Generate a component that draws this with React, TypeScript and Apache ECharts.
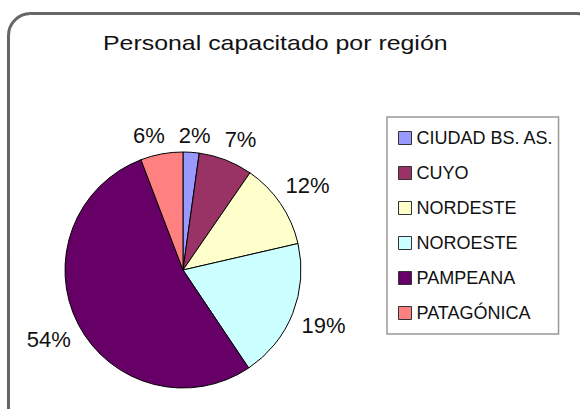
import React, { useEffect, useRef } from "react";
import * as echarts from "echarts";

const regions = ["CIUDAD BS. AS.", "CUYO", "NORDESTE", "NOROESTE", "PAMPEANA", "PATAGÓNICA"];
const shares = [2.2, 7.4, 11.8, 19.2, 53.6, 5.8];
const colors = ["#9999FF", "#993366", "#FFFFCC", "#CCFFFF", "#660066", "#FF8080"];
const titleText = "Personal capacitado por región";

const CX = 183;
const CY = 270;
const R = 118;
const LABEL_SIZE = 22;
const FONT = "'Liberation Sans', Arial, sans-serif";

function computeLabelSpots() {
  const total = shares.reduce((a, b) => a + b, 0);
  const canvas = document.createElement("canvas");
  const ctx = canvas.getContext("2d");
  if (ctx) ctx.font = `${LABEL_SIZE}px ${FONT}`;
  let acc = 0;
  const items = shares.map((v) => {
    const mid = ((acc + v / 2) / total) * Math.PI * 2;
    acc += v;
    const ux = Math.sin(mid);
    const uy = -Math.cos(mid);
    const text = Math.round((v / total) * 100) + "%";
    const w = ctx ? ctx.measureText(text).width : text.length * 12;
    const h = LABEL_SIZE;
    const k = 4 + Math.abs(ux) * (w / 2 + 5) + (Math.abs(uy) * h) / 2;
    return { x: CX + ux * (R + k), y: CY + uy * (R + k), w, top: uy < -0.9 };
  });
  const tops = items.filter((t) => t.top).sort((a, b) => a.x - b.x);
  for (let it = 0; it < 60; it++) {
    for (let j = 0; j < tops.length - 1; j++) {
      const a = tops[j];
      const b = tops[j + 1];
      const need = (a.w + b.w) / 2 + 14;
      const d = b.x - a.x;
      if (d < need) {
        const s = (need - d) / 2;
        a.x -= s;
        b.x += s;
      }
    }
  }
  return items;
}

export default function App() {
  const ref = useRef<HTMLDivElement>(null);
  useEffect(() => {
    if (!ref.current) return;
    const chart = echarts.init(ref.current, null, { renderer: "svg" });
    const spots = computeLabelSpots();
    chart.setOption({
      animation: false,
      backgroundColor: "#ffffff",
      legend: {
        orient: "vertical",
        left: 387,
        top: 117,
        padding: [12, 5, 12, 11],
        itemGap: 17,
        itemWidth: 13,
        itemHeight: 13,
        icon: "rect",
        borderColor: "#999",
        borderWidth: 1.5,
        itemStyle: { borderColor: "#333", borderWidth: 1 },
        textStyle: { fontFamily: FONT, fontSize: 18, color: "#111" },
        data: regions,
      },
      graphic: [
        {
          type: "rect",
          shape: { x: 8.5, y: 13.5, width: 590, height: 430, r: 22 },
          style: { fill: "none", stroke: "#666", lineWidth: 3 },
          silent: true,
        },
        {
          type: "text",
          x: 103,
          y: 32,
          scaleX: 1.215,
          silent: true,
          style: {
            text: titleText,
            fontFamily: FONT,
            fontSize: 20.5,
            fill: "#111",
            verticalAlign: "top",
            align: "left",
          },
        },
      ],
      series: [
        {
          type: "pie",
          center: [CX, CY],
          radius: R,
          startAngle: 90,
          clockwise: true,
          avoidLabelOverlap: false,
          itemStyle: { borderColor: "#000", borderWidth: 1 },
          label: {
            show: true,
            position: "outside",
            overflow: "none",
            fontFamily: FONT,
            fontSize: LABEL_SIZE,
            color: "#111",
            formatter: (p: any) => Math.round(p.percent) + "%",
          },
          labelLine: { show: false },
          labelLayout: (params: any) => {
            const s = spots[params.dataIndex];
            if (!s) return {};
            return { x: s.x, y: s.y, align: "center", verticalAlign: "middle" };
          },
          data: regions.map((name, i) => ({
            name,
            value: shares[i],
            itemStyle: { color: colors[i] },
          })),
        },
      ],
    });
    return () => chart.dispose();
  }, []);
  return (
    <div
      ref={ref}
      style={{ position: "fixed", left: 0, top: 0, width: 580, height: 409 }}
    />
  );
}
